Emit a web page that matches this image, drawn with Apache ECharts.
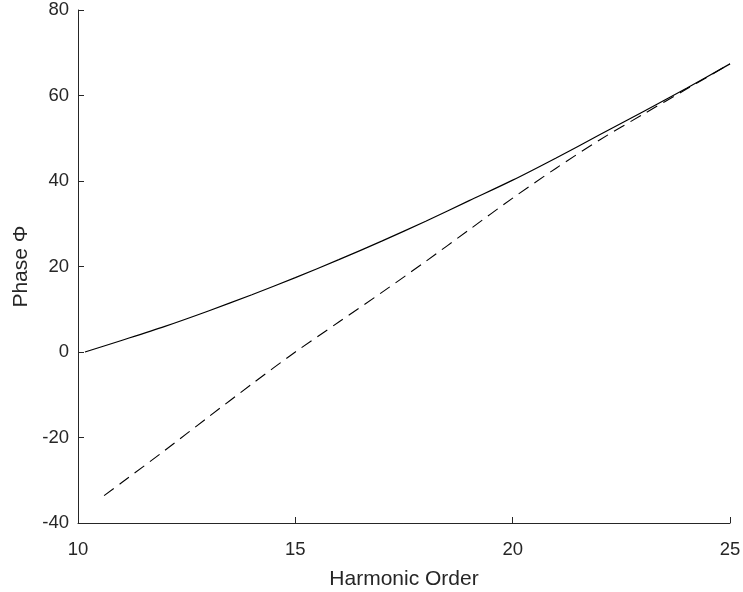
<!DOCTYPE html>
<html>
<head>
<meta charset="utf-8">
<script src="https://cdn.jsdelivr.net/npm/echarts@6/dist/echarts.min.js"></script>
<style>
  html, body { margin: 0; padding: 0; background: #fff; }
  #chart { width: 743px; height: 592px; }
</style>
</head>
<body>
<div id="chart"></div>
<script>
// harmonic order (x) and phase values
var solidOrder = [10.16, 11, 12, 13, 14, 15, 16, 17, 18, 19, 20, 21, 22, 23, 24, 25];
var solidPhase = [0, 2.7, 6.0, 9.6, 13.4, 17.4, 21.6, 26.0, 30.6, 35.4, 40.2, 45.4, 50.8, 56.2, 61.7, 67.4];

var dashedOrder = [10.6, 11, 12, 13, 14, 15, 16, 17, 18, 19, 20, 21, 22, 23, 24, 25];
var dashedPhase = [-33.6, -30.6, -23.0, -15.2, -7.5, 0.0, 7.0, 14.0, 21.2, 28.6, 36.0, 43.0, 49.6, 55.6, 61.5, 67.4];

var xTicks = [10, 15, 20, 25];
var yTicks = [-40, -20, 0, 20, 40, 60, 80];

function pairs(xs, ys) {
  return xs.map(function (x, i) { return [x, ys[i]]; });
}

var axisColor = '#262626';
var fontFamily = 'Liberation Sans, Arial, Helvetica, sans-serif';

var chart = echarts.init(document.getElementById('chart'), null, { renderer: 'canvas' });

var option = {
  backgroundColor: '#fff',
  animation: false,
  grid: { left: 78, right: 13, top: 10, bottom: 69, containLabel: false, outerBoundsMode: 'none' },
  xAxis: {
    type: 'value',
    min: xTicks[0],
    max: xTicks[xTicks.length - 1],
    interval: 5,
    name: 'Harmonic Order',
    nameLocation: 'middle',
    nameGap: 46,
    nameTextStyle: { fontSize: 21, color: axisColor, fontFamily: fontFamily },
    axisLine: { show: true, onZero: false, lineStyle: { color: axisColor, width: 1 } },
    axisTick: { show: true, inside: true, length: 6, lineStyle: { color: axisColor } },
    axisLabel: { fontSize: 18.5, color: axisColor, margin: 17, fontFamily: fontFamily },
    splitLine: { show: false }
  },
  yAxis: {
    type: 'value',
    min: yTicks[0],
    max: yTicks[yTicks.length - 1],
    interval: 20,
    name: 'Phase Φ',
    nameLocation: 'middle',
    nameGap: 44,
    nameRotate: 90,
    nameTextStyle: { fontSize: 21, color: axisColor, fontFamily: fontFamily },
    axisLine: { show: true, onZero: false, lineStyle: { color: axisColor, width: 1 } },
    axisTick: { show: true, inside: true, length: 6, lineStyle: { color: axisColor } },
    axisLabel: { fontSize: 18.5, color: axisColor, margin: 9, fontFamily: fontFamily },
    splitLine: { show: false }
  },
  series: [
    {
      name: 'phase',
      type: 'line',
      data: pairs(solidOrder, solidPhase),
      showSymbol: false,
      smooth: 0.3,
      lineStyle: { color: '#000', width: 1.2 }
    },
    {
      name: 'linear',
      type: 'line',
      data: pairs(dashedOrder, dashedPhase),
      showSymbol: false,
      smooth: 0.3,
      lineStyle: { color: '#000', width: 1.1, type: [12, 7] }
    }
  ]
};

chart.setOption(option);
</script>
</body>
</html>
